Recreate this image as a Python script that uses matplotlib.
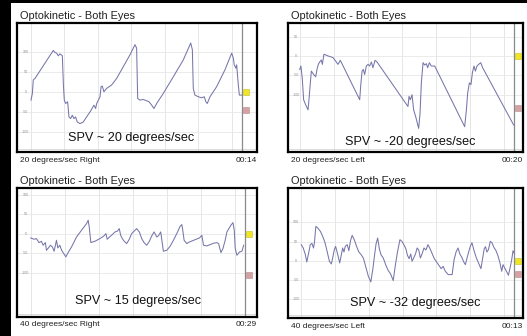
"""
Optokinetic test: four eye-position traces (both eyes) with slow-phase velocity.
"""

import matplotlib.pyplot as plt
from matplotlib.patches import Rectangle
from matplotlib.transforms import offset_copy
import numpy as np

W, H = 527, 336

# 20 deg/s right
t_r20 = [0.00, 0.09, 0.15, 0.27, 1.48, 1.59, 1.70, 1.81, 1.92, 2.08, 2.15, 2.21, 2.30, 2.43,
         2.52, 2.63, 2.74, 2.85, 2.96, 3.07, 3.25, 3.47, 3.69, 3.92, 4.18, 4.29, 4.36, 4.47,
         4.58, 4.65, 4.73, 4.84, 5.02, 5.35, 5.69, 6.13, 6.57, 6.90, 7.01, 7.08, 7.23, 7.45,
         7.68, 7.83, 8.01, 8.16, 8.34, 8.78, 9.45, 10.11, 10.60, 10.71, 10.77, 10.88, 11.10,
         11.33, 11.50, 11.61, 11.70, 11.88, 12.32, 12.87, 13.32, 13.43, 13.49, 13.60, 13.65,
         13.76, 13.83, 13.98]
v_r20 = [-20.3, -3.4, 30.5, 34.7, 104.9, 99.8, 98.1, 91.4, 96.4, 91.4, 17.8, -20.3, -28.8, -24.5,
         -62.6, -66.8, -58.4, -66.8, -62.6, -75.3, -79.5, -75.3, -62.6, -49.9, -33.0, -41.5, -28.8,
         -20.3, -11.8, 13.5, 15.2, 0.8, 9.3, 17.8, 34.7, 64.3, 93.9, 119.3, 110.8, -16.1, -20.3,
         -18.6, -22.0, -24.5, -33.0, -41.5, -28.8, -3.4, 38.9, 81.2, 123.5, 106.6, 9.3, -7.6, -11.8,
         -14.4, -11.8, -24.5, -28.8, -11.8, 13.5, 55.8, 98.1, 85.4, 68.5, 60.1, 68.5,
         17.8, -7.6, -7.6]

# 20 deg/s left
t_l20 = [0.00, 0.12, 0.25, 0.37, 0.56, 0.78, 0.87, 0.97, 1.09, 1.31, 1.50, 1.62, 1.74, 1.87,
         2.02, 2.12, 2.27, 2.65, 3.12, 3.36, 3.58, 3.80, 5.61, 5.70, 5.83, 5.95, 6.07, 6.23,
         6.39, 6.54, 6.70, 6.85, 7.04, 7.23, 10.12, 10.22, 10.34, 10.50, 10.65, 10.84, 11.12,
         11.25, 11.37, 11.53, 11.68, 11.84, 11.96, 12.12, 12.30, 12.62, 15.42, 15.58, 15.70,
         15.86, 16.01, 16.14, 16.29, 16.42, 16.57, 16.73, 16.92, 17.10, 20.00]
v_l20 = [-34.8, -26.1, -60.9, -113.1, -126.2, -139.2, -113.1, -78.3, -39.2, -47.9, -53.9, -34.8,
         -21.8, -15.7, -10.4, -21.8, 4.4, 0.0, -4.4, -13.1, -21.8, -11.3, -113.1, -78.3, -39.2,
         -34.8, -47.9, -26.1, -21.8, -26.1, -15.7, -30.5, -11.3, -15.7, -130.5, -104.4, -113.1,
         -100.1, -139.2, -156.6, -187.1, -147.9, -69.6, -17.4, -23.5, -20.0, -30.5, -17.4, -26.1,
         -26.1, -182.7, -139.2, -95.7, -69.6, -73.9, -43.5, -26.1, -39.2, -26.1, -21.8, -17.4,
         -30.5, -178.4]

# 40 deg/s right
t_r40 = [0.00, 0.45, 0.77, 1.13, 1.45, 1.68, 1.99, 2.13, 2.40, 2.67, 2.94, 3.17, 3.49, 3.67,
         3.94, 4.21, 4.48, 4.76, 5.07, 5.53, 6.21, 6.89, 7.57, 7.79, 7.93, 8.15, 8.70, 9.38,
         9.92, 10.19, 10.37, 10.74, 11.10, 11.42, 11.73, 12.00, 12.19, 12.41, 12.68, 13.00,
         13.36, 13.68, 14.00, 14.36, 14.72, 15.04, 15.36, 15.72, 16.08, 16.40, 16.72, 17.08,
         17.30, 17.62, 17.98, 18.44, 18.89, 19.34, 19.80, 20.25, 20.48, 20.61, 20.79, 21.16,
         21.52, 21.97, 22.42, 22.88, 23.19, 23.42, 23.87, 24.33, 24.78, 25.23, 25.46, 25.78,
         26.05, 26.36, 26.59, 26.86, 27.13, 27.41, 27.59, 27.72, 27.95, 28.31, 28.63, 28.86]
v_r40 = [-11.1, -14.5, -12.8, -23.1, -19.7, -29.9, -23.1, -42.8, -36.8, -29.9, -34.2, -45.3,
         -17.1, -36.8, -29.9, -43.6, -51.3, -59.9, -48.7, -34.2, -8.6, 8.6, 25.7, 34.2, 17.1,
         -23.1, -19.7, -12.8, -6.0, 0.0, -14.5, -7.7, -1.7, 4.3, 6.0, 12.8, -4.3, -12.8, -19.7,
         -25.7, -14.5, 0.0, 6.0, 12.8, 4.3, -12.8, -23.1, -29.9, -19.7, -6.0, 4.3, -8.6, -6.0,
         4.3, -45.3, -42.8, -32.5, -17.1, 0.0, 18.8, 23.1, 8.6, -17.1, -25.7, -21.4, -18.0,
         -14.5, -11.1, -4.3, -29.9, -31.6, -28.2, -24.8, -23.1, -25.7, -48.7, -38.5, -17.1,
         4.3, 12.8, 21.4, 28.2, 8.6, -38.5, -55.6, -47.0, -45.3, -29.9]

# 40 deg/s left
t_l40 = [0.00, 0.12, 0.24, 0.34, 0.44, 0.55, 0.65, 0.75, 0.81, 0.89, 1.01, 1.17, 1.31, 1.44,
         1.58, 1.72, 1.84, 1.94, 2.02, 2.10, 2.22, 2.35, 2.45, 2.53, 2.61, 2.69, 2.81, 2.91,
         3.01, 3.11, 3.24, 3.38, 3.52, 3.66, 3.80, 3.96, 4.10, 4.25, 4.37, 4.47, 4.57, 4.67,
         4.77, 4.87, 5.01, 5.18, 5.32, 5.46, 5.62, 5.74, 5.88, 6.03, 6.15, 6.27, 6.39, 6.49,
         6.59, 6.69, 6.77, 6.87, 6.98, 7.08, 7.18, 7.28, 7.38, 7.50, 7.62, 7.74, 7.87, 7.99,
         8.13, 8.27, 8.41, 8.55, 8.67, 8.80, 8.98, 9.22, 9.34, 9.46, 9.58, 9.69, 9.81, 9.93,
         10.03, 10.13, 10.23, 10.33, 10.43, 10.56, 10.70, 10.84, 10.98, 11.08, 11.18, 11.26,
         11.34, 11.44, 11.55, 11.65, 11.77, 11.89, 12.01, 12.13, 12.25, 12.33, 12.43, 12.56,
         12.66, 12.76, 12.86, 12.94, 13.00]
v_l40 = [41.8, 33.1, 17.4, -3.5, 17.4, 41.8, 45.2, 33.1, 48.7, 89.6, 85.3, 76.6, 63.5, 48.7,
         24.4, -1.7, -8.7, 11.3, 28.7, 37.4, 17.4, -6.1, 15.7, 33.1, 22.6, 37.4, 41.8, 26.1,
         52.2, 66.1, 54.8, 37.4, 22.6, 15.7, 6.1, -19.1, -40.9, -55.7, -23.5, 11.3, 43.5, 59.2,
         31.3, 15.7, 7.0, -13.1, -26.1, -34.8, -52.2, -14.8, 22.6, 54.8, 50.5, 41.8, 31.3, 13.9,
         5.2, 17.4, -1.7, 7.0, 17.4, 33.1, 27.8, 7.0, 17.4, 33.1, 27.8, 41.8, 31.3, 19.1,
         5.2, -3.5, -12.2, -20.9, -14.8, -27.8, -36.5, -36.5, 2.6, 22.6, 33.1, 17.4, 8.7, -3.5,
         -10.4, 7.0, 22.6, 37.4, 47.0, 26.1, 7.0, -7.0, -20.9, 5.2, 31.3, 36.5,
         22.6, 28.7, 50.5, 47.0, 34.8, 27.0, 13.9, -3.5, -27.8, -10.4, -19.1, -29.6,
         -38.3, -19.1, 2.6, 26.1, 20.0]

panels = [
    dict(t=t_r20, v=v_r20, dur=14, xlim=(-0.93, 15.0), ylim=(-151, 174),
         yticks=[100, 50, 0, -50, -100], ylabels=["100", "50", "0", "-50", "-100"],
         spv="SPV ~ 20 degrees/sec", stim="20 degrees/sec Right", clock="00:14",
         marks=(0, -46), frame=(17, 23, 257, 152), spv_xy=(0.477, 0.11)),
    dict(t=t_l20, v=v_l20, dur=20, xlim=(-1.09, 20.87), ylim=(-248, 85),
         yticks=[50, 0, -50, -100], ylabels=["50", "0", "-50", "-100"],
         spv="SPV ~ -20 degrees/sec", stim="20 degrees/sec Left", clock="00:20",
         marks=(0, -135), frame=(288, 23, 523, 152), spv_xy=(0.519, 0.08)),
    dict(t=t_r40, v=v_r40, dur=29, xlim=(-1.86, 30.67), ylim=(-214, 117),
         yticks=[100, 50, 0, -50, -100], ylabels=["100", "50", "0", "-50", "-100"],
         spv="SPV ~ 15 degrees/sec", stim="40 degrees/sec Right", clock="00:29",
         marks=(0, -105), frame=(17, 188, 257, 317), spv_xy=(0.504, 0.125)),
    dict(t=t_l40, v=v_l40, dur=13, xlim=(-0.81, 13.55), ylim=(-150, 190),
         yticks=[100, 50, 0, -50, -100], ylabels=["100", "50", "0", "-50", "-100"],
         spv="SPV ~ -32 degrees/sec", stim="40 degrees/sec Left", clock="00:13",
         marks=(0, -34), frame=(288, 188, 523, 318), spv_xy=(0.540, 0.115)),
]

plt.rcParams["font.family"] = ["Liberation Sans", "DejaVu Sans"]

fig = plt.figure(figsize=(W / 100, H / 100), dpi=100)
fig.patch.set_facecolor("white")

# black borders of the screen capture
fig.patches.append(Rectangle((0, 0), 11 / W, 1, transform=fig.transFigure,
                             facecolor="black", edgecolor="none", zorder=0))
fig.patches.append(Rectangle((0, 1 - 3 / H), 1, 3 / H, transform=fig.transFigure,
                             facecolor="black", edgecolor="none", zorder=0))

for p in panels:
    x0, y0, x1, y1 = p["frame"]
    ax = fig.add_axes([x0 / W, 1 - y1 / H, (x1 - x0) / W, (y1 - y0) / H])
    ax.set_xlim(*p["xlim"])
    ax.set_ylim(*p["ylim"])

    # grid: vertical lines every ~33 px, horizontal at the scale ticks
    step = p["dur"] * 33.5 / 211
    for gx in np.arange(0, p["xlim"][1], step):
        ax.axvline(gx, color="#e2e2e2", lw=0.6, zorder=1)
    for gy in p["yticks"]:
        ax.axhline(gy, color="#e8e8e8", lw=0.6, zorder=1)
    ax.axhline(p["ylim"][0] + 0.02 * (p["ylim"][1] - p["ylim"][0]), color="#d6d6d6", lw=0.6)

    ax.set_xticks([])
    ax.set_yticks([])
    for val, lab in zip(p["yticks"], p["ylabels"]):
        ax.text(0.035, val, lab, transform=ax.get_yaxis_transform(), fontsize=2.6,
                color="#909090", ha="center", va="center")

    ax.plot(p["t"], p["v"], color="#7676aa", lw=0.75, zorder=3)

    # cursor line and level markers
    ax.axvline(p["dur"], color="#8a8a8a", lw=0.9, zorder=2)
    shifted = offset_copy(ax.transData, fig=fig, x=3.2, y=0, units="points")
    ax.plot([p["dur"]], [p["marks"][0]], marker="s", ms=4.6, mfc="#f0e628",
            mec="#c8bc20", mew=0.4, transform=shifted, clip_on=False, zorder=4)
    ax.plot([p["dur"]], [p["marks"][1]], marker="s", ms=4.6, mfc="#d4a2a4",
            mec="#b88a8c", mew=0.4, transform=shifted, clip_on=False, zorder=4)

    for s in ax.spines.values():
        s.set_linewidth(1.6)
        s.set_color("black")

    ax.text(p["spv_xy"][0], p["spv_xy"][1], p["spv"], transform=ax.transAxes,
            fontsize=9.1, ha="center", va="center", color="#111111", zorder=5)

    fig.text((x0 + 3) / W, 1 - (y0 - 7) / H, "Optokinetic - Both Eyes", fontsize=7.9,
             ha="left", va="center", color="#222222")
    fig.text((x0 + 3) / W, 1 - (y1 + 8) / H, p["stim"], fontsize=6.0,
             ha="left", va="center", color="#222222")
    fig.text(x1 / W, 1 - (y1 + 8) / H, p["clock"], fontsize=6.0,
             ha="right", va="center", color="#222222")

fig.savefig("out.png", dpi=100, facecolor="white")
